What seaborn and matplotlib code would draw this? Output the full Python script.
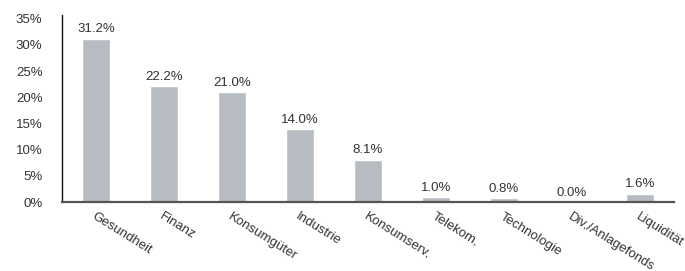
import matplotlib
matplotlib.use("Agg")
import matplotlib.pyplot as plt
import seaborn as sns
import pandas as pd

sectors = ["Gesundheit", "Finanz", "Konsumgüter", "Industrie", "Konsumserv,",
           "Telekom,", "Technologie", "Div,/Anlagefonds", "Liquidität"]
weights = [31.2, 22.2, 21.0, 14.0, 8.1, 1.0, 0.8, 0.0, 1.6]

df = pd.DataFrame({"sector": sectors, "weight": weights})

sns.set_style("white")
plt.rcParams["font.family"] = ["Liberation Sans", "DejaVu Sans"]

fig = plt.figure(figsize=(6.85, 2.71), dpi=100)
ax = fig.add_axes([0.0905, 0.2546, 0.8935, 0.69])

sns.barplot(data=df, x="sector", y="weight", color="#b6bcc2", width=0.41,
            saturation=1, ax=ax)

# value labels above bars
for i, v in enumerate(weights):
    ax.text(i, v + 0.6, f"{v:.1f}%", ha="center", va="bottom",
            fontsize=9.5, color="#333333")

ax.set_xlim(-0.5, 8.5)
ax.set_ylim(0, 35.7)
ax.set_yticks(range(0, 36, 5))
ax.set_yticklabels([f"{t}%" for t in range(0, 36, 5)], fontsize=9.5, color="#333333")
ax.set_xticks(range(len(sectors)))
ax.set_xticklabels(sectors, rotation=-32, ha="left", va="top",
                   rotation_mode="anchor", fontsize=9.5, color="#333333")
ax.tick_params(axis="both", length=0)
ax.tick_params(axis="x", pad=6)
ax.tick_params(axis="y", pad=14)
ax.set_xlabel("")
ax.set_ylabel("")

sns.despine(ax=ax, top=True, right=True)
ax.spines["left"].set_color("#111111")
ax.spines["left"].set_linewidth(1.0)
ax.spines["bottom"].set_color("#555555")
ax.spines["bottom"].set_linewidth(1.6)

fig.savefig("out.png", dpi=100)
